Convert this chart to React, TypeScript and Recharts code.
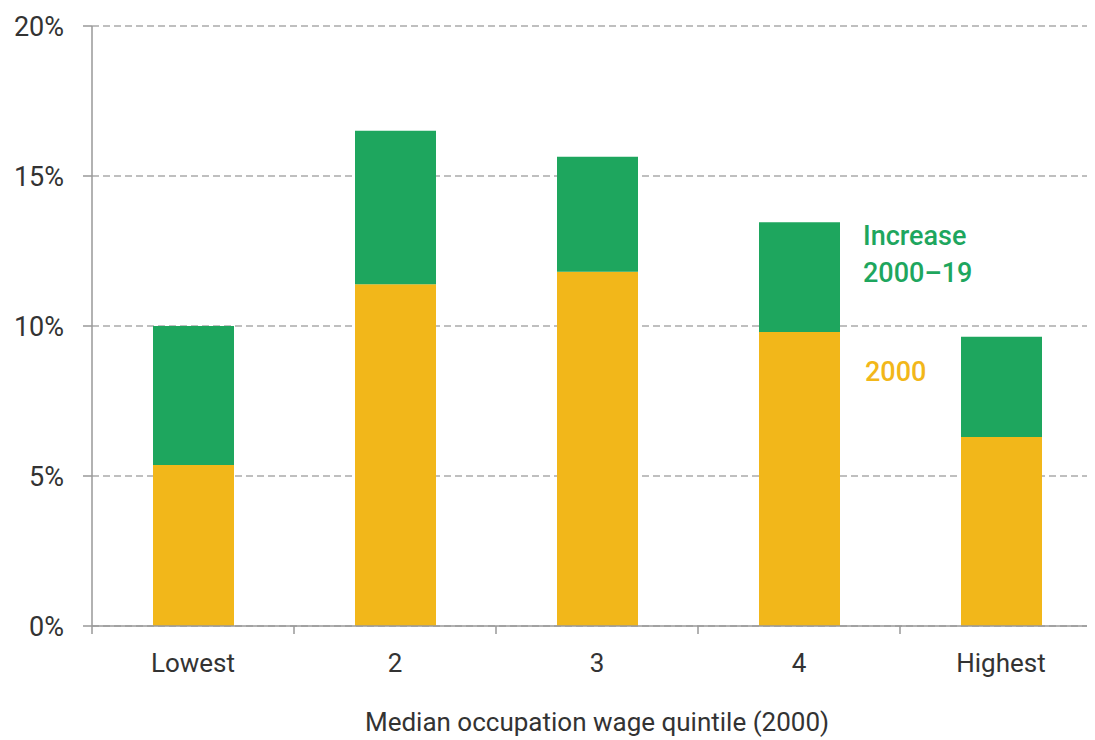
import React from 'react';
import { BarChart, Bar, XAxis, YAxis, CartesianGrid, Label } from 'recharts';

const categories = ['Lowest', '2', '3', '4', 'Highest'];
const share2000 = [5.37, 11.39, 11.81, 9.8, 6.3];
const increase = [4.63, 5.12, 3.83, 3.66, 3.34];
const yTicks = [0, 5, 10, 15, 20];

const GREEN = '#1ea65e';
const ORANGE = '#f2b71a';
const TEXT = '#333333';
const AXIS = '#999999';
const FONT = 'Roboto, "Noto Sans", sans-serif';

const data = categories.map((c, i) => ({ name: c, base: share2000[i], inc: increase[i] }));

const XTick = (props: any) => {
  const { x, y, payload, width, visibleTicksCount } = props;
  const band = (width || 1010) / (visibleTicksCount || 5);
  const bx = x - band / 2;
  return (
    <g>
      <line x1={bx} x2={bx} y1={y} y2={y + 8} stroke={AXIS} strokeWidth={1.5} />
      <text x={x} y={y + 28} dy="0.71em" textAnchor="middle" fill={TEXT} fontSize={26} fontFamily={FONT}>
        {payload.value}
      </text>
    </g>
  );
};

export default function App() {
  return (
    <div style={{ position: 'relative', width: 1087, height: 732, overflow: 'hidden' }}>
      <BarChart
        width={1094}
        height={732}
        data={data}
        margin={{ top: 18, right: 0, bottom: 0, left: 0 }}
        barSize={81}
      >
        <CartesianGrid horizontal vertical={false} stroke="#aaaaaa" strokeDasharray="7 4" strokeWidth={1.5} />
        <XAxis
          dataKey="name"
          height={114}
          tickLine={false}
          tickSize={0}
          tickMargin={0}
          axisLine={{ stroke: AXIS, strokeWidth: 1.5 }}
          tick={<XTick />}
          interval={0}
        >
          <Label
            value="Median occupation wage quintile (2000)"
            position="insideBottom"
            offset={9}
            fill={TEXT}
            fontSize={26}
            fontFamily={FONT}
          />
        </XAxis>
        <YAxis
          width={84}
          domain={[0, 20]}
          ticks={yTicks}
          interval={0}
          tickFormatter={(v: number) => `${v}%`}
          tickSize={9}
          tickMargin={19}
          tickLine={{ stroke: AXIS, strokeWidth: 1.5 }}
          axisLine={{ stroke: AXIS, strokeWidth: 1.5 }}
          tick={{ fill: TEXT, fontSize: 27, fontFamily: FONT }}
        />
        <Bar dataKey="base" stackId="a" fill={ORANGE} isAnimationActive={false} />
        <Bar dataKey="inc" stackId="a" fill={GREEN} isAnimationActive={false} />
      </BarChart>
      <div
        style={{
          position: 'absolute',
          left: 855,
          top: 210,
          color: GREEN,
          fontFamily: FONT,
          fontWeight: 500,
          fontSize: 27,
          lineHeight: '37px',
        }}
      >
        Increase
        <br />
        2000–19
      </div>
      <div
        style={{
          position: 'absolute',
          left: 857,
          top: 346,
          color: ORANGE,
          fontFamily: FONT,
          fontWeight: 500,
          fontSize: 27,
          lineHeight: '36px',
        }}
      >
        2000
      </div>
    </div>
  );
}
